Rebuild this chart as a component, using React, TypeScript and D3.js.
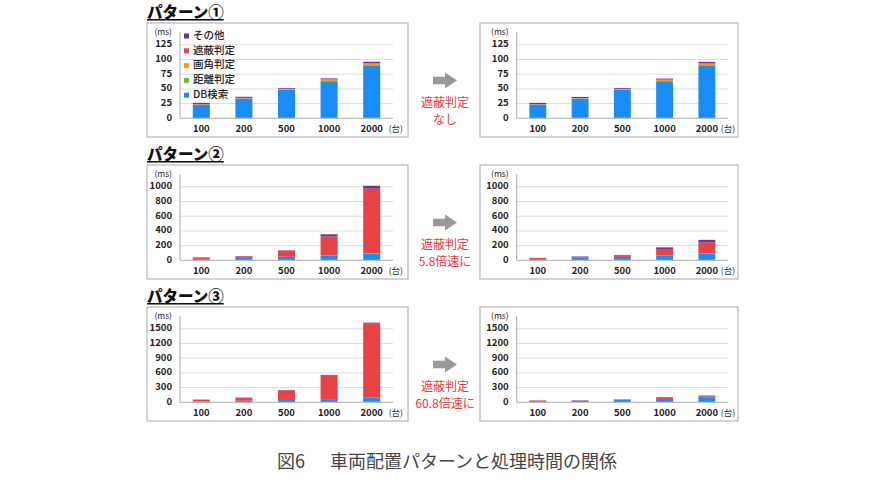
import React from 'react';
import * as d3 from 'd3';

// Vehicle counts on the x axis
const categories = ['100', '200', '500', '1000', '2000'];

// Stack order, bottom to top
const seriesNames = ['DB検索', '距離判定', '画角判定', '遮蔽判定', 'その他'];
const seriesColors = ['#1a8cf5', '#6cbd2c', '#ff9a00', '#e84246', '#7b2c8e'];

// Processing time (ms) per vehicle count: [DB検索, 距離判定, 画角判定, 遮蔽判定, その他]
const pattern1Before = [
  [23, 0.3, 0.4, 0.5, 2],
  [33.5, 0.3, 0.5, 0.5, 1.8],
  [48.5, 0.3, 1, 0.5, 1.2],
  [63, 0.4, 2.3, 0.6, 1.5],
  [90, 0.6, 2.4, 1, 2.2],
];
const pattern1After = [
  [23.5, 0.3, 0.4, 0, 2],
  [33.5, 0.3, 0.5, 0, 2],
  [48.5, 0.3, 1, 0, 1.4],
  [63, 0.4, 2.5, 0, 1.6],
  [90, 0.6, 2.8, 0, 2.6],
];
const pattern2Before = [
  [20, 0, 0, 18, 4],
  [33, 0, 0, 22, 2],
  [47, 0, 1, 84, 4],
  [65, 0, 1, 258, 30],
  [92, 0, 2, 880, 40],
];
const pattern2After = [
  [18, 0, 0, 12, 3],
  [35, 0, 0, 14, 5],
  [45, 0, 1, 24, 3],
  [68, 0, 1, 85, 22],
  [90, 0, 2, 152, 34],
];
const pattern3Before = [
  [15, 0, 0, 40, 1],
  [33, 0, 0, 62, 2],
  [47, 0, 1, 198, 3],
  [65, 0, 1, 490, 3],
  [92, 0, 2, 1520, 12],
];
const pattern3After = [
  [26, 0, 0, 7, 5],
  [33, 0, 0, 6, 4],
  [50, 0, 1, 8, 3],
  [68, 0, 1, 18, 15],
  [90, 0, 2, 25, 20],
];

const yTicks1 = [0, 25, 50, 75, 100, 125];
const yTicks2 = [0, 200, 400, 600, 800, 1000];
const yTicks3 = [0, 300, 600, 900, 1200, 1500];

const titles = ['パターン①', 'パターン②', 'パターン③'];
const notes = [
  ['遮蔽判定', 'なし'],
  ['遮蔽判定', '5.8倍速に'],
  ['遮蔽判定', '60.8倍速に'],
];

const FONT = "'Noto Sans CJK JP', 'Noto Sans', sans-serif";

type PanelProps = {
  boxX: number;
  boxY: number;
  boxW: number;
  plotLeft: number;
  plotRight: number;
  rows: number[][];
  ticks: number[];
  legend?: boolean;
  unitOffset: number;
};

function Panel({ boxX, boxY, boxW, plotLeft, plotRight, rows, ticks, legend, unitOffset }: PanelProps) {
  const boxH = 114;
  const zeroY = boxY + 95.3;
  const step = ticks[1] - ticks[0];
  const yMax = ticks[ticks.length - 1] + step;
  const y = d3.scaleLinear().domain([0, yMax]).range([zeroY, zeroY - 88.2]);
  const x = d3
    .scaleBand<string>()
    .domain(categories)
    .range([plotLeft, plotRight])
    .paddingInner(0.6)
    .paddingOuter(0.3);

  const table = rows.map((r, i) => {
    const o: Record<string, number | string> = { cat: categories[i] };
    seriesNames.forEach((n, k) => (o[n] = r[k]));
    return o;
  });
  const stacked = d3.stack<Record<string, number | string>>().keys(seriesNames)(table as any);

  return (
    <g>
      <rect x={boxX} y={boxY} width={boxW} height={boxH} fill="#fff" stroke="#bcbcbc" strokeWidth={1.3} />
      {ticks.slice(1).map((t) => (
        <line key={t} x1={plotLeft} x2={plotRight} y1={y(t)} y2={y(t)} stroke="#dcdcdc" strokeWidth={1} />
      ))}
      {stacked.map((layer, k) => (
        <g key={seriesNames[k]} fill={seriesColors[k]}>
          {layer.map((d, i) => {
            const h = y(d[0]) - y(d[1]);
            if (h <= 0) return null;
            return (
              <rect
                key={i}
                x={x(categories[i])}
                width={x.bandwidth()}
                y={y(d[1])}
                height={h}
              />
            );
          })}
        </g>
      ))}
      <line x1={plotLeft} x2={plotLeft} y1={zeroY} y2={y(yMax) + 2} stroke="#a8a8a8" strokeWidth={1} />
      <line x1={plotLeft} x2={plotRight} y1={zeroY} y2={zeroY} stroke="#bdbdbd" strokeWidth={1.2} />
      {ticks.map((t) => (
        <text
          key={t}
          x={plotLeft - 8}
          y={y(t)}
          textAnchor="end"
          dominantBaseline="middle"
          fontSize={9.5}
          fontWeight="bold"
          fill="#222"
        >
          {t}
        </text>
      ))}
      <text x={plotLeft - 8} y={y(yMax) + 3} textAnchor="end" dominantBaseline="middle" fontSize={8.5} fill="#222">
        (ms)
      </text>
      {categories.map((c) => (
        <text
          key={c}
          x={(x(c) ?? 0) + x.bandwidth() / 2}
          y={zeroY + 11}
          textAnchor="middle"
          dominantBaseline="middle"
          fontSize={9.5}
          fontWeight="bold"
          fill="#222"
        >
          {c}
        </text>
      ))}
      <text
        x={(x(categories[4]) ?? 0) + x.bandwidth() / 2 + unitOffset}
        y={zeroY + 11}
        dominantBaseline="middle"
        fontSize={8.5}
        fill="#222"
      >
        (台)
      </text>
      {legend &&
        seriesNames
          .map((n, k) => ({ n, k }))
          .reverse()
          .map(({ n, k }, i) => (
            <g key={n} transform={`translate(${plotLeft + 4},${boxY + 13 + i * 14.8})`}>
              <rect x={0} y={-2.5} width={5} height={5} fill={seriesColors[k]} />
              <text x={9} y={0} dominantBaseline="middle" fontSize={10.5} fontWeight={500} fill="#222">
                {n}
              </text>
            </g>
          ))}
    </g>
  );
}

export default function App() {
  const rowsLeft = [pattern1Before, pattern2Before, pattern3Before];
  const rowsRight = [pattern1After, pattern2After, pattern3After];
  const tickSets = [yTicks1, yTicks2, yTicks3];
  const panelTops = [23, 165, 307];

  return (
    <svg
      width={890}
      height={500}
      viewBox="0 0 890 500"
      style={{ position: 'absolute', left: 0, top: 0, display: 'block', background: '#fff' }}
      fontFamily={FONT}
    >
      <rect width={890} height={500} fill="#fff" />
      {panelTops.map((top, p) => (
        <g key={p}>
          <text
            x={147}
            y={top - 5}
            fontSize={15.5}
            fontWeight={900}
            fill="#111"
            style={{ textDecoration: 'underline' }}
          >
            {titles[p]}
          </text>
          <Panel
            boxX={147}
            boxY={top}
            boxW={261}
            plotLeft={180}
            plotRight={393}
            rows={rowsLeft[p]}
            ticks={tickSets[p]}
            legend={p === 0}
            unitOffset={17}
          />
          <Panel
            boxX={480}
            boxY={top}
            boxW={258}
            plotLeft={516.7}
            plotRight={728}
            rows={rowsRight[p]}
            ticks={tickSets[p]}
            unitOffset={14}
          />
          <path
            d={`M433,${top + 53.7} H445 V${top + 49.5} L457,${top + 57.5} L445,${top + 65.5} V${top + 61.3} H433 Z`}
            fill="#999"
          />
          <text x={445} y={top + 80.5} textAnchor="middle" dominantBaseline="middle" fontSize={12} fill="#e8383d">
            {notes[p][0]}
          </text>
          <text x={445} y={top + 98} textAnchor="middle" dominantBaseline="middle" fontSize={12} fill="#e8383d">
            {notes[p][1]}
          </text>
        </g>
      ))}
      <text x={277} y={463} dominantBaseline="middle" fontSize={18} fill="#444">
        図6
      </text>
      <text x={330} y={463} dominantBaseline="middle" fontSize={18} fill="#444">
        車両配置パターンと処理時間の関係
      </text>
    </svg>
  );
}
